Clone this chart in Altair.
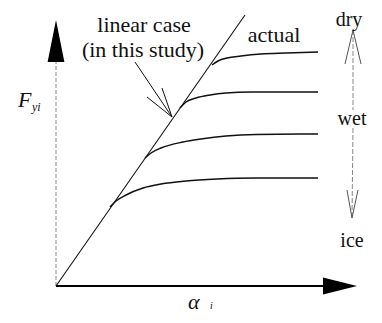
import altair as alt
import pandas as pd

# ---- data (x = slip angle, y = lateral force; arbitrary units) ----
linear_x = [0, 189]
linear_y = [0, 271]

dry_x = [156, 162, 171, 185, 205, 230, 262]
dry_y = [221, 225, 228, 230, 232, 233, 234]
wet1_x = [124, 130, 140, 154, 170, 195, 262]
wet1_y = [178, 184, 188, 191, 193, 194, 194]
wet2_x = [89, 95, 105, 127, 145, 170, 200, 262]
wet2_y = [128, 133, 138, 144, 147, 150, 151.5, 152]
ice_x = [54, 60, 70, 87, 105, 130, 161, 200, 262]
ice_y = [79, 85, 91, 98, 102, 105, 107, 108, 108]

# axis arrows
x_axis = dict(x=[0], y=[0], x2=[268], y2=[0])
x_head = dict(x=[284], y=[0])
y_axis = dict(x=[0], y=[0], x2=[0], y2=[226])
y_head = dict(x=[0], y=[245])

# annotation arrow (linear case)
ann_x = [79, 116, 116]
ann_y = [224, 169, 169]
ann_x2 = [116, 91, 106]
ann_y2 = [169, 189, 198]

# dry / wet / ice range arrow
range_x = [297, 297, 297, 297, 297, 296, 296]
range_y = [256, 256, 176, 158, 256, 68, 68]
range_x2 = [297, 289, 297, 296, 305, 291, 302]
range_y2 = [176, 222, 176, 68, 222, 96, 96]
range_kind = ["dash", "solid", "dash", "dash", "solid", "solid", "solid"]

labels = ["linear case", "(in this study)", "actual"]
label_x = [88, 87, 218]
label_y = [254, 229, 244]

side_labels = ["dry", "wet", "ice"]
side_x = [293, 296, 296]
side_y = [260, 161, 39]

XD = [-48, 318]
YD = [-29, 278]
xs = alt.Scale(domain=XD, nice=False, zero=False)
ys = alt.Scale(domain=YD, nice=False, zero=False)
SERIF = "'Liberation Serif', 'Times New Roman', 'DejaVu Serif', Times, serif"

curves = []
for name, xv, yv in [("linear", linear_x, linear_y), ("dry", dry_x, dry_y),
                     ("wet1", wet1_x, wet1_y), ("wet2", wet2_x, wet2_y),
                     ("ice", ice_x, ice_y)]:
    for i, (a, b) in enumerate(zip(xv, yv)):
        curves.append({"curve": name, "x": a, "y": b, "o": i})
curves = pd.DataFrame(curves)

X = alt.X("x:Q", scale=xs, axis=None)
Y = alt.Y("y:Q", scale=ys, axis=None)

lin = alt.Chart(curves[curves.curve == "linear"]).mark_line(
    color="#111", strokeWidth=1.1
).encode(x=X, y=Y, order="o:Q")

sat = alt.Chart(curves[curves.curve != "linear"]).mark_line(
    color="#111", strokeWidth=1.5, interpolate="monotone"
).encode(x=X, y=Y, detail="curve:N", order="o:Q")

def seg(d, **kw):
    return alt.Chart(pd.DataFrame(d)).mark_rule(**kw).encode(x=X, y=Y, x2="x2:Q", y2="y2:Q")

xaxis = seg(x_axis, color="#000", strokeWidth=2.2)
yaxis = seg(y_axis, color="#888", strokeWidth=1, strokeDash=[4, 2])
ann = seg(dict(x=ann_x, y=ann_y, x2=ann_x2, y2=ann_y2), color="#111", strokeWidth=1)

rng = pd.DataFrame(dict(x=range_x, y=range_y, x2=range_x2, y2=range_y2, k=range_kind))
rng_dash = seg(rng[rng.k == "dash"], color="#888", strokeWidth=1, strokeDash=[5, 2])
rng_solid = seg(rng[rng.k == "solid"], color="#555", strokeWidth=1)

xh = alt.Chart(pd.DataFrame(x_head)).mark_point(
    shape="M-1,-0.5L1,0L-1,0.5Z", size=1156, filled=True, color="#000", opacity=1
).encode(x=X, y=Y)
yh = alt.Chart(pd.DataFrame(y_head)).mark_point(
    shape="M0,-1L0.4,1L-0.4,1Z", size=1764, filled=True, color="#000", opacity=1
).encode(x=X, y=Y)

txt = alt.Chart(pd.DataFrame(dict(t=labels, x=label_x, y=label_y))).mark_text(
    font=SERIF, fontSize=22, color="#111", align="center", baseline="alphabetic"
).encode(x=X, y=Y, text="t:N")

side = alt.Chart(pd.DataFrame(dict(t=side_labels, x=side_x, y=side_y))).mark_text(
    font=SERIF, fontSize=20, color="#111", align="center", baseline="alphabetic"
).encode(x=X, y=Y, text="t:N")

def sym(t, x, y, size, align="left"):
    return alt.Chart(pd.DataFrame(dict(t=[t], x=[x], y=[y]))).mark_text(
        font=SERIF, fontStyle="italic", fontSize=size, color="#111",
        align=align, baseline="alphabetic"
    ).encode(x=X, y=Y, text="t:N")

f_lab = sym("F", -38, 179, 22)
f_sub = sym("yi", -24, 175, 12)
a_lab = sym("α", 132, -23, 22)
a_sub = sym("i", 154, -23, 10)

chart = alt.layer(
    yaxis, xaxis, lin, sat, ann, rng_dash, rng_solid, xh, yh, txt, side,
    f_lab, f_sub, a_lab, a_sub
).properties(
    width=366, height=307, padding=0, autosize="none", background="white"
).configure_view(stroke=None)

chart.save("out.html", embed_options={"renderer": "svg", "actions": False})
